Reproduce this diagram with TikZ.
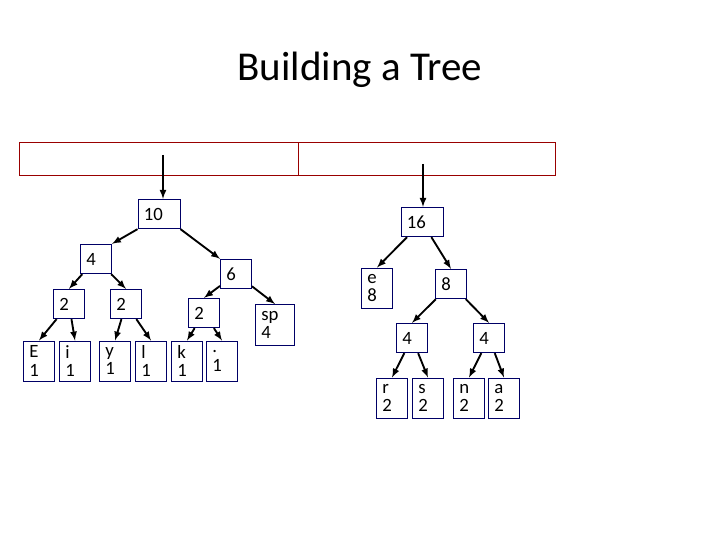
\documentclass[tikz,border=0pt]{standalone}
\usepackage{fontspec}
\setmainfont{Carlito}
\usetikzlibrary{arrows}

\begin{document}
\begin{tikzpicture}[x=0.03cm,y=-0.03cm,>=latex,
  tbox/.style={draw=blue!40!black,line width=0.8pt,minimum width=0.93cm,
    minimum height=0.88cm,inner xsep=5pt,inner ysep=2pt,text width=0.93cm-10pt,align=left,
    font=\fontsize{16}{16}\selectfont},
  leafbox/.style={tbox,minimum height=1.2cm},
  edge/.style={->,line width=1.6pt}]

\useasboundingbox (0,0) rectangle (720,540);

\node at (360,70) {\fontsize{35}{38}\selectfont Building a Tree};

\draw[red!60!black,line width=0.6pt] (19,142) rectangle (298,175);
\draw[red!60!black,line width=0.6pt] (298,142) rectangle (555,175);

\coordinate (topL) at (163,155);
\coordinate (topR) at (423,164);

% left tree
\node[tbox,minimum width=1.26cm,text width=1.26cm-10pt] (n10) at (159,214) {10};
\node[tbox] (n4) at (96,259) {4};
\node[tbox] (n6) at (236,274) {6};
\node[tbox] (n2a) at (69,304) {2};
\node[tbox] (n2b) at (126,304) {2};
\node[tbox] (n2c) at (204,313) {2};
\node[leafbox,minimum width=1.17cm,minimum height=1.23cm,text width=1.17cm-10pt] (nsp) at (275,325) {sp\\4};
\node[leafbox] (nE) at (39,361) {E\\1};
\node[leafbox] (ni) at (75,361) {i\\1};
\node[leafbox] (ny) at (115,361) {y\\1};
\node[leafbox] (nl) at (151,361) {l\\1};
\node[leafbox] (nk) at (187,361) {k\\1};
\node[leafbox] (ndot) at (222,361) {.\\1};

% right tree
\node[tbox,minimum width=1.26cm,text width=1.26cm-10pt] (n16) at (422,222) {16};
\node[leafbox] (ne) at (377,288) {e\\8};
\node[tbox] (n8) at (451,284) {8};
\node[tbox] (n4a) at (412,338) {4};
\node[tbox] (n4b) at (489,338) {4};
\node[leafbox] (nr) at (392,398) {r\\2};
\node[leafbox] (ns) at (428,398) {s\\2};
\node[leafbox] (nn) at (469,398) {n\\2};
\node[leafbox] (na) at (504,398) {a\\2};

\draw[edge] (topL) -- (topL |- n10.north);
\draw[edge] (n10.south west) -- (n4.north east);
\draw[edge] (n10.south east) -- (n6.north west);
\draw[edge] (n4) -- (n2a.north);
\draw[edge] (n4) -- (n2b.north);
\draw[edge] (n6) -- (n2c.north);
\draw[edge] (n6) -- (nsp.north);
\draw[edge] (n2a) -- (nE.north);
\draw[edge] (n2a) -- (ni.north);
\draw[edge] (n2b) -- (ny.north);
\draw[edge] (n2b) -- (nl.north);
\draw[edge] (n2c) -- (nk.north);
\draw[edge] (n2c) -- (ndot.north);

\draw[edge] (topR) -- (topR |- n16.north);
\draw[edge] (n16) -- (ne.north);
\draw[edge] (n16) -- (n8.north);
\draw[edge] (n8) -- (n4a.north);
\draw[edge] (n8) -- (n4b.north);
\draw[edge] (n4a) -- (nr.north);
\draw[edge] (n4a) -- (ns.north);
\draw[edge] (n4b) -- (nn.north);
\draw[edge] (n4b) -- (na.north);

\end{tikzpicture}
\end{document}
